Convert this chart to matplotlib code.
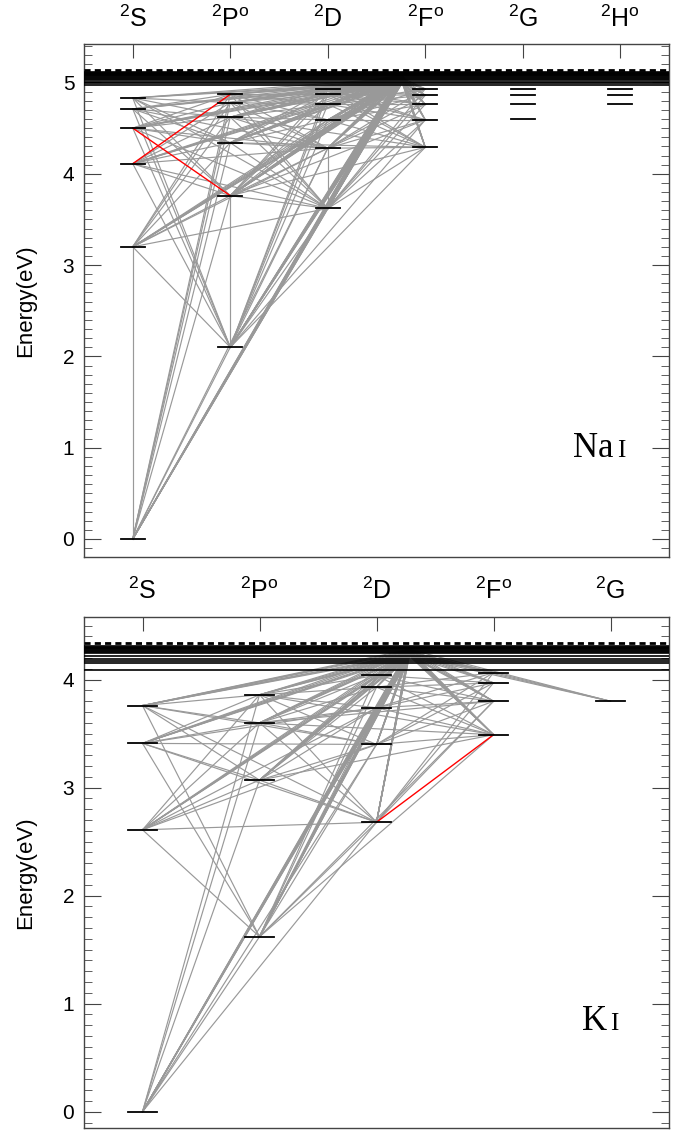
"""Grotrian diagrams for Na I and K I (gray: transitions, red: highlighted ones)."""
import matplotlib
matplotlib.use("Agg")
import matplotlib.pyplot as plt
from matplotlib.ticker import MultipleLocator

plt.rcParams["font.family"] = ["Liberation Sans", "DejaVu Sans"]
plt.rcParams["mathtext.default"] = "regular"

GRAY = "#999999"
HALF_W = 0.125   # half width of a level mark, in column units

# ---------------------------------------------------------------- Na I
NA_TERMS = ["$^2$S", "$^2$P$^o$", "$^2$D", "$^2$F$^o$", "$^2$G", "$^2$H$^o$"]
NA_LEVELS = {
    "3s": (0, 0.00), "4s": (0, 3.20), "5s": (0, 4.11), "6s": (0, 4.50),
    "7s": (0, 4.71), "8s": (0, 4.83),
    "3p": (1, 2.10), "4p": (1, 3.76), "5p": (1, 4.34), "6p": (1, 4.62),
    "7p": (1, 4.78), "8p": (1, 4.87),
    "3d": (2, 3.62), "4d": (2, 4.28), "5d": (2, 4.59), "6d": (2, 4.76),
    "7d": (2, 4.87), "8d": (2, 4.93),
    "4f": (3, 4.29), "5f": (3, 4.59), "6f": (3, 4.76), "7f": (3, 4.86),
    "8f": (3, 4.93),
    "5g": (4, 4.60), "6g": (4, 4.76), "7g": (4, 4.86), "8g": (4, 4.93),
    "6h": (5, 4.76), "7h": (5, 4.86), "8h": (5, 4.93),
}
NA_LINKS = {
    "3s": ["4s", "3p", "4p", "5p", "6p", "7p", "8p", "3d", "4d"],
    "4s": ["3p", "4p", "5p", "6p", "7p", "8p", "3d", "4d", "5d"],
    "5s": ["3p", "4p", "5p", "6p", "7p", "3d", "4d"],
    "6s": ["3p", "5p", "6p", "7p", "8p", "3d", "4d"],
    "7s": ["3p", "4p", "5p", "6p", "8p", "4d"],
    "8s": ["3p", "4p", "5p", "6p", "7p", "3d"],
    "3p": ["4p", "3d", "4d", "5d", "6d", "7d", "8d", "4f", "5f"],
    "4p": ["3d", "4d", "5d", "6d", "7d", "8d", "4f", "5f"],
    "5p": ["3d", "4d", "5d", "6d", "7d", "8d", "4f"],
    "6p": ["3d", "4d", "5d", "6d", "7d", "8d", "4f"],
    "7p": ["3d", "4d", "5d", "6d", "7d", "8d"],
    "8p": ["3d", "4d", "5d", "6d", "7d"],
    "3d": ["4d", "4f", "5f", "6f", "7f", "8f"],
    "4d": ["4f", "5f", "6f", "7f", "8f"],
    "5d": ["4f", "5f", "6f", "7f", "8f"],
    "6d": ["4f", "5f", "6f", "7f", "8f"],
    "7d": ["4f", "5f", "6f", "7f"],
    "8d": ["4f", "5f", "6f", "7f"],
}
NA_RED = [("5s", "8p"), ("6s", "4p")]
# number of transitions from each level into the merged high levels
NA_BAND_COUNT = {
    "3s": 10, "4s": 5, "5s": 4, "6s": 4, "7s": 3, "8s": 3,
    "3p": 12, "4p": 9, "5p": 6, "6p": 5, "7p": 4, "8p": 3,
    "3d": 14, "4d": 8, "5d": 6, "6d": 5, "7d": 4, "8d": 3,
    "4f": 7, "5f": 5, "6f": 4, "7f": 3, "8f": 3,
}
NA_BAND_X = 2.76
NA_BAND_TARGETS = [5.00, 5.05, 5.02, 5.08, 5.01, 5.06, 5.03, 5.09, 4.99,
                   5.07, 5.04, 5.10, 5.015, 5.055]
NA_HIGH = [4.97, 4.99, 5.01, 5.025, 5.04, 5.05, 5.06, 5.07, 5.08, 5.085,
           5.09, 5.095, 5.10, 5.105, 5.11]
NA_ION = 5.139

# ---------------------------------------------------------------- K I
K_TERMS = ["$^2$S", "$^2$P$^o$", "$^2$D", "$^2$F$^o$", "$^2$G"]
K_LEVELS = {
    "4s": (0, 0.00), "5s": (0, 2.61), "6s": (0, 3.41), "7s": (0, 3.76),
    "4p": (1, 1.62), "5p": (1, 3.07), "6p": (1, 3.60), "7p": (1, 3.86),
    "3d": (2, 2.68), "4d": (2, 3.40), "5d": (2, 3.74), "6d": (2, 3.93),
    "7d": (2, 4.04),
    "4f": (3, 3.49), "5f": (3, 3.80), "6f": (3, 3.97), "7f": (3, 4.065),
    "5g": (4, 3.80),
}
K_LINKS = {
    "4s": ["4p", "5p", "6p", "7p", "3d", "4d"],
    "5s": ["4p", "5p", "6p", "7p", "3d", "4d", "5d"],
    "6s": ["4p", "5p", "6p", "7p", "3d", "4d", "5d"],
    "7s": ["4p", "5p", "6p", "7p", "3d", "4d"],
    "4p": ["3d", "4d", "5d", "6d", "7d", "4f", "5f"],
    "5p": ["3d", "4d", "5d", "6d", "7d", "4f"],
    "6p": ["3d", "4d", "5d", "6d", "7d", "4f", "5f"],
    "7p": ["3d", "4d", "5d", "6d", "7d", "4f"],
    "3d": ["5f", "6f", "7f"],
    "4d": ["4f", "5f", "6f", "7f"],
    "5d": ["4f", "5f", "6f", "7f"],
    "6d": ["4f", "5f", "6f", "7f"],
    "7d": ["4f", "5f", "6f"],
}
K_RED = [("3d", "4f")]
K_BAND_COUNT = {
    "4s": 9, "5s": 5, "6s": 5, "7s": 6,
    "4p": 11, "5p": 6, "6p": 5, "7p": 5,
    "3d": 12, "4d": 7, "5d": 6, "6d": 5, "7d": 4,
    "4f": 7, "5f": 5, "6f": 4, "7f": 3, "5g": 4,
}
K_BAND_X = 2.28
K_BAND_TARGETS = [4.22, 4.26, 4.24, 4.28, 4.23, 4.27, 4.25, 4.29, 4.215,
                  4.265, 4.245, 4.285]
K_HIGH = [4.09, 4.15, 4.175, 4.195, 4.22, 4.245, 4.255, 4.265, 4.275,
          4.285, 4.29, 4.295, 4.30, 4.31]
K_ION = 4.341


def draw_panel(ax, terms, levels, links, red, band_count, band_x,
               band_targets, high, ion, ylim, name_pos, element):
    # transitions between individual levels
    for lo, ups in links.items():
        for up in ups:
            (c1, e1), (c2, e2) = levels[lo], levels[up]
            ax.plot([c1, c2], [e1, e2], color=GRAY, lw=0.85, zorder=1)
    # transitions into the merged high levels
    for lo, n in band_count.items():
        c1, e1 = levels[lo]
        for e2 in band_targets[:n]:
            ax.plot([c1, band_x], [e1, e2], color=GRAY, lw=0.85, zorder=1)
    for lo, up in red:
        (c1, e1), (c2, e2) = levels[lo], levels[up]
        ax.plot([c1, c2], [e1, e2], color="red", lw=1.0, zorder=2)
    # level marks
    for c, e in levels.values():
        ax.plot([c - HALF_W, c + HALF_W], [e, e], color="black", lw=1.3,
                zorder=3)
    for e in high:
        ax.axhline(e, color="black", lw=1.2, zorder=3)
    ax.axhline(ion, color="black", lw=2.0, ls=(0, (2.2, 1.5)), zorder=3)

    ax.set_xlim(-0.5, len(terms) - 0.5)
    ax.set_ylim(*ylim)
    ax.set_xticks(range(len(terms)))
    ax.set_xticklabels(terms, fontsize=18)
    ax.tick_params(axis="x", bottom=False, top=True, labelbottom=False,
                   labeltop=True, direction="in", length=10, pad=9,
                   color="#444444")
    ax.yaxis.set_major_locator(MultipleLocator(1))
    ax.yaxis.set_minor_locator(MultipleLocator(0.1))
    ax.tick_params(axis="y", which="both", left=True, right=True,
                   direction="in", labelsize=15, pad=7, color="#444444")
    ax.tick_params(axis="y", which="major", length=12)
    ax.tick_params(axis="y", which="minor", length=6)
    for sp in ax.spines.values():
        sp.set_color("#444444")
        sp.set_linewidth(1.0)
    ax.set_ylabel("Energy(eV)", fontsize=16)
    ax.yaxis.set_label_coords(-0.082, 0.5)

    (xa, xb, yb) = name_pos
    ax.text(xa, yb, element, transform=ax.transAxes, va="baseline",
            family="Liberation Serif", fontsize=25)
    ax.text(xb, yb, "I", transform=ax.transAxes, va="baseline",
            family="Liberation Serif", fontsize=18)


fig = plt.figure(figsize=(6.88, 11.33), dpi=100)
ax_na = fig.add_axes([0.1221, 0.5084, 0.8503, 0.4525])
ax_k = fig.add_axes([0.1221, 0.0044, 0.8503, 0.4513])

draw_panel(ax_na, NA_TERMS, NA_LEVELS, NA_LINKS, NA_RED, NA_BAND_COUNT,
           NA_BAND_X, NA_BAND_TARGETS, NA_HIGH, NA_ION, (-0.197, 5.418),
           (0.836, 0.912, 0.1956), "Na")
draw_panel(ax_k, K_TERMS, K_LEVELS, K_LINKS, K_RED, K_BAND_COUNT,
           K_BAND_X, K_BAND_TARGETS, K_HIGH, K_ION, (-0.151, 4.583),
           (0.851, 0.900, 0.1917), "K")

fig.savefig("out.png", dpi=100)
